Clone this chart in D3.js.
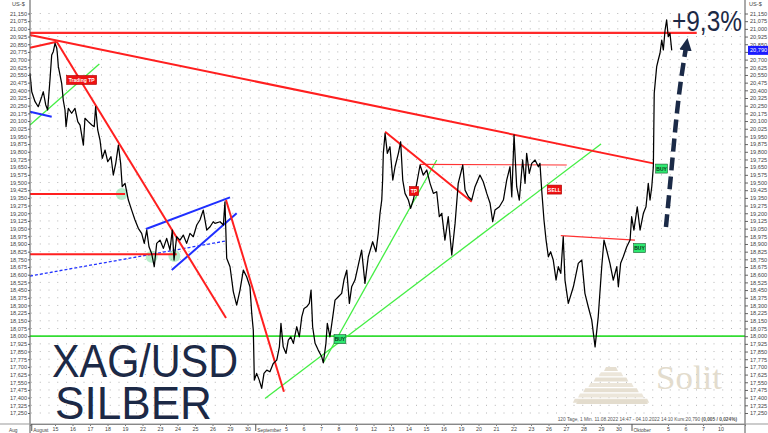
<!DOCTYPE html>
<html><head><meta charset="utf-8">
<script src="https://cdn.jsdelivr.net/npm/d3@7"></script>
<style>body{margin:0;background:#fff}svg{display:block;font-family:"Liberation Sans",Arial,sans-serif}</style>
</head><body><svg id="c" width="768" height="433"></svg>
<script>
// ---- DATA (time in trading days since start, price in US-$) ----
const timeDays = [0,0.10,0.29,0.47,0.67,0.76,0.90,1.01,1.14,1.24,1.33,1.43,1.53,1.56,1.62,1.81,1.90,2.00,2.06,2.19,2.38,2.57,2.73,2.86,3.05,3.14,3.33,3.53,3.67,3.75,3.87,4.00,4.13,4.29,4.44,4.63,4.76,4.90,5.05,5.18,5.27,5.43,5.62,5.81,6.00,6.19,6.38,6.53,6.67,6.80,6.95,7.10,7.24,7.43,7.62,7.81,8.00,8.13,8.23,8.38,8.57,8.76,8.95,9.14,9.33,9.53,9.71,9.90,10.10,10.29,10.47,10.57,10.86,11.05,11.14,11.24,11.43,11.62,11.81,12.00,12.19,12.38,12.57,12.67,12.76,12.82,12.95,13.10,13.24,13.37,13.53,13.71,13.90,14.10,14.25,14.34,14.47,14.63,14.76,14.90,15.05,15.24,15.39,15.53,15.66,15.81,15.96,16.06,16.15,16.29,16.47,16.67,16.76,16.91,16.99,17.14,17.30,17.43,17.62,17.81,17.94,18.10,18.25,18.38,18.57,18.76,18.95,19.14,19.33,19.58,19.77,19.90,20.00,20.10,20.15,20.19,20.29,20.42,20.57,20.73,20.86,21.05,21.18,21.30,21.43,21.62,21.75,21.90,22.10,22.29,22.47,22.67,22.86,23.05,23.24,23.39,23.53,23.71,23.90,24.10,24.29,24.47,24.73,24.86,25.05,25.24,25.43,25.71,25.90,26.10,26.29,26.44,26.57,26.82,27.05,27.24,27.43,27.53,27.66,27.81,27.96,28.15,28.29,28.38,28.53,28.67,28.86,29.05,29.14,29.24,29.37,29.49,29.62,29.75,29.90,30.06,30.19,30.33,30.47,30.57,30.76,31.05,31.33,31.53,31.71,31.90,32.10,32.29,32.47,32.67,32.80,32.95,33.14,33.33,33.53,33.62,33.75,33.90,34.10,34.29,34.38,34.51,34.70,34.86,35.05,35.20,35.33,35.43,35.53,35.62,35.67,35.81,35.90,36.00,36.10,36.19,36.29,36.38,36.47,36.57,36.67];
const priceUSD = [20.566,20.386,20.289,20.240,20.338,20.386,20.257,20.208,20.501,20.745,20.777,20.859,20.810,20.762,20.631,20.469,20.305,20.208,20.045,20.224,20.176,20.224,20.094,20.061,19.866,20.127,20.094,20.061,20.045,20.240,20.013,19.915,19.736,19.817,19.703,19.752,19.573,19.687,19.866,19.687,19.459,19.492,19.329,19.231,19.134,19.053,19.004,18.906,19.036,18.873,18.808,18.678,18.906,18.938,18.857,18.955,18.841,19.036,18.743,18.971,18.938,18.987,18.906,19.004,18.971,19.085,19.134,19.231,19.036,19.068,19.117,19.101,19.117,19.085,19.312,18.760,18.678,18.433,18.304,18.450,18.645,18.580,18.482,18.222,18.059,17.571,17.637,17.571,17.490,17.637,17.669,17.652,17.734,17.766,17.896,18.125,17.896,17.832,17.962,17.994,17.930,18.092,17.994,18.189,18.271,18.287,18.320,18.450,18.092,17.930,17.864,17.799,17.740,17.930,18.125,17.994,18.189,18.352,18.385,18.418,18.548,18.645,18.320,18.482,18.548,18.694,18.841,18.515,18.775,18.922,18.824,19.004,19.199,19.329,19.524,19.785,19.980,19.785,19.849,19.524,19.654,19.785,19.898,19.524,19.394,19.329,19.248,19.329,19.492,19.671,19.573,19.622,19.492,19.394,19.410,19.166,19.199,18.938,19.166,18.792,19.101,19.492,19.671,19.426,19.361,19.329,19.459,19.573,19.508,19.394,19.297,19.117,19.231,19.263,19.329,19.524,19.654,19.361,19.964,19.459,19.329,19.720,19.492,19.785,19.590,19.687,19.720,19.654,19.687,19.426,19.134,18.938,18.775,18.824,18.743,18.548,18.678,18.613,18.971,18.548,18.320,18.482,18.711,18.743,18.418,18.287,18.157,17.896,18.189,18.678,18.938,18.841,18.711,18.548,18.678,18.482,18.711,18.775,18.873,18.938,19.166,19.036,19.263,19.036,19.199,19.263,19.492,19.329,19.459,19.654,20.371,20.631,20.696,20.762,20.891,20.794,20.989,21.087,20.924,20.957,20.790];

const dayTickLabels = ["15","16","17","18","19","22","23","24","25","26","29","30","5","6","7","8","9","12","13","14","15","16","19","20","21","22","23","26","27","28","29","30","5","6","7","10"];
const dayTickPos = [1.43,2.43,3.43,4.43,5.43,6.43,7.43,8.43,9.43,10.43,11.43,12.43,14.63,15.63,16.63,17.63,18.63,19.63,20.63,21.63,22.63,23.63,24.63,25.63,26.63,27.63,28.63,29.63,30.63,31.63,32.63,33.63,36.46,37.46,38.46,39.46];
const monthLabels = ["August","September","Oktober"];
const monthPos = [0.1,12.9,34.4];
const yTicks = d3.range(0,53).map(i => +(17.25 + i*0.075).toFixed(3));
const lastPrice = 20.790;

// trendlines [t1,p1,t2,p2]
const redLines = [[0,20.940,35.62,19.687],[0,20.816,1.53,20.875],[1.53,20.875,11.2,18.177],[11.2,19.329,14.51,17.457],[20.29,19.996,25.24,19.312],[0,19.387,5.43,19.387],[0,18.799,8.38,18.799]];
const redThinLines = [[22.29,19.677,30.67,19.671],[30.33,18.982,34.57,18.938]];
const resistance = [0,20.960,38.1,20.960];
const greenLines = [[0,20.061,3.96,20.657],[13.43,17.392,32.63,19.876],[16.76,17.740,23.24,19.720]];
const support = [0,18.000,40.857,18.000];
const blueLines = [[0,20.191,1.24,20.142],[6.63,19.046,11.43,19.355],[8.10,18.645,11.81,19.199]];
const blueDashed = [[0,18.587,11.14,18.928]];
const touchPoints = [[5.24,19.387],[6.95,18.775],[8.25,18.782]];
const signalText = ["Trading TP","TP","SELL","BUY","BUY","BUY"];
const signalTime = [2.95,21.94,29.97,17.71,36.09,34.83];
const signalPrice = [20.501,19.417,19.431,17.971,19.636,18.860];
const signalType = ["sell","sell","sell","buy","buy","buy"];
const arrowTime = [36.34,36.67,37.05,37.49];
const arrowPrice = [19.065,19.654,20.305,20.826];

// ---- CHART ----
const svg = d3.select("#c");
const x = d3.scaleLinear().domain([0,40.857]).range([30,745]);
const y = d3.scaleLinear().domain([17.25,21.15]).range([413,13.5]);
const fmt = v => v.toFixed(3).replace(".", ",");

// dotted grid
svg.append("g").selectAll("line").data(yTicks).join("line")
  .attr("x1",31).attr("x2",745).attr("y1",d=>y(d)).attr("y2",d=>y(d))
  .attr("stroke","#b4b4b4").attr("stroke-width",1).attr("stroke-dasharray","1,7.75");

// logo (decoration)
const logo = svg.append("g");
for (let i=0;i<7;i++){
  const top = 367 + i*5.3, hw = 7 + i*5.2, cx = 611;
  logo.append("path").attr("d",`M${cx-hw},${top+4} L${cx-hw+2},${top} L${cx+hw-2},${top} L${cx+hw},${top+4} Z`)
    .attr("fill", i%2? "#ece6da":"#e6dfd1");
}
logo.append("path").attr("d","M576,404 L579,400 L645,400 L648,404 Z").attr("fill","#e3dccd");
logo.append("text").attr("x",656).attr("y",389).attr("font-family","'Liberation Serif','DejaVu Serif',serif")
  .attr("font-size",34).attr("fill","#e3dccd").attr("textLength",66).attr("lengthAdjust","spacingAndGlyphs").text("Solit");

// annotation lines
const seg = (g, data, color, w, dash) => g.selectAll(null).data(data).join("line")
  .attr("x1",d=>x(d[0])).attr("y1",d=>y(d[1])).attr("x2",d=>x(d[2])).attr("y2",d=>y(d[3]))
  .attr("stroke",color).attr("stroke-width",w).attr("stroke-dasharray",dash||null);
const ann = svg.append("g");
ann.selectAll("circle").data(touchPoints).join("circle")
  .attr("cx",d=>x(d[0])).attr("cy",d=>y(d[1])).attr("r",6).attr("fill","#7fe0a0").attr("opacity",0.55);
seg(ann,[support],"#33dd33",1.6);
seg(ann,greenLines,"#44ee44",1.3);
seg(ann,blueDashed,"#2233ff",1.3,"3,2");
seg(ann,blueLines,"#1f2fff",2);
seg(ann,redThinLines,"#ff3333",1.2);
seg(ann,redLines,"#ff1f1f",2);
seg(ann,[resistance],"#ff2a2a",2.2);

// price line
const pts = timeDays.map((t,i)=>[t,priceUSD[i]]);
svg.append("path").datum(pts)
  .attr("d", d3.line().x(d=>x(d[0])).y(d=>y(d[1])))
  .attr("fill","none").attr("stroke","#000").attr("stroke-width",1.25).attr("stroke-linejoin","round");

// signal labels
const sig = svg.append("g").selectAll("g").data(signalText.map((s,i)=>({s,t:signalTime[i],p:signalPrice[i],k:signalType[i]}))).join("g")
  .attr("transform",d=>`translate(${x(d.t)},${y(d.p)})`);
sig.append("rect").attr("x",d=>-(d.s.length*2.6+4)/2).attr("y",-4.5).attr("width",d=>d.s.length*2.6+4).attr("height",9)
  .attr("fill",d=>d.k==="buy"?"#2ee870":"#ee1111").attr("stroke",d=>d.k==="buy"?"#1a5a30":"#aa0000").attr("stroke-width",0.6);
sig.append("text").attr("text-anchor","middle").attr("y",2).attr("font-size",5).attr("font-weight","bold")
  .attr("fill",d=>d.k==="buy"?"#0a3015":"#fff").text(d=>d.s);

// arrow
const defs = svg.append("defs");
defs.append("marker").attr("id","ah").attr("viewBox","0 0 10 10").attr("refX",3).attr("refY",5)
  .attr("markerWidth",2.8).attr("markerHeight",2.8).attr("orient","auto").attr("markerUnits","strokeWidth")
  .append("path").attr("d","M0,0 L10,5 L0,10 Z").attr("fill","#1b2a47");
svg.append("path").datum(arrowTime.map((t,i)=>[t,arrowPrice[i]]))
  .attr("d", d3.line().x(d=>x(d[0])).y(d=>y(d[1])).curve(d3.curveNatural))
  .attr("fill","none").attr("stroke","#1b2a47").attr("stroke-width",4.5).attr("stroke-dasharray","13,6")
  .attr("marker-end","url(#ah)");

// axes
const right = svg.append("g").attr("transform","translate(745,0)")
  .call(d3.axisRight(y).tickValues(yTicks).tickFormat(fmt).tickSize(3).tickPadding(2));
const left = svg.append("g").attr("transform","translate(30,0)")
  .call(d3.axisLeft(y).tickValues(yTicks).tickFormat(fmt).tickSize(2).tickPadding(1));
[right,left].forEach(g=>{
  g.select(".domain").remove();
  g.selectAll("text").attr("font-size",5.6).attr("fill","#444").attr("font-family","'Liberation Sans',Arial,sans-serif");
  g.selectAll("line").attr("stroke","#666");
});
// the last-price box covers the right label beneath it
right.selectAll(".tick").filter(d=>Math.abs(y(d)-y(lastPrice))<6).select("text").remove();
svg.append("line").attr("x1",745).attr("x2",745).attr("y1",0).attr("y2",433).attr("stroke","#555");
svg.append("line").attr("x1",30).attr("x2",30).attr("y1",0).attr("y2",433).attr("stroke","#555");

const bottom = svg.append("g").attr("transform","translate(0,424)")
  .call(d3.axisBottom(x).tickValues(dayTickPos).tickFormat((d,i)=>dayTickLabels[i]).tickSize(2).tickPadding(1));
bottom.select(".domain").attr("stroke","#777");
bottom.selectAll("text").attr("font-size",5.3).attr("fill","#444").attr("font-family","'Liberation Sans',Arial,sans-serif");
bottom.selectAll("line").attr("stroke","#777");
svg.append("line").attr("x1",0).attr("x2",768).attr("y1",424).attr("y2",424).attr("stroke","#999");
const mg = svg.append("g").selectAll("g").data(monthLabels.map((m,i)=>({m,t:monthPos[i]}))).join("g")
  .attr("transform",d=>`translate(${x(d.t)},424)`);
mg.append("line").attr("y1",0).attr("y2",7).attr("stroke","#555");
mg.append("text").attr("x",1.5).attr("y",7.5).attr("font-size",4.9).attr("fill","#444").text(d=>d.m);
svg.append("text").attr("x",9).attr("y",431.5).attr("font-size",4.8).attr("fill","#444").text("Aug");

// axis titles
svg.append("text").attr("x",749).attr("y",6).attr("font-size",5.6).attr("fill","#444").text("US-$");
svg.append("text").attr("x",12).attr("y",5.5).attr("font-size",5.6).attr("fill","#444").text("US-$");

// last price box
const lp = svg.append("g").attr("transform",`translate(748,${y(lastPrice)})`);
lp.append("rect").attr("x",0).attr("y",-4.5).attr("width",20).attr("height",9).attr("fill","#1b1bff");
lp.append("text").attr("x",2).attr("y",2).attr("font-size",5.6).attr("fill","#fff").text(fmt(lastPrice));

// big texts
svg.append("text").attr("x",52).attr("y",377).attr("font-size",46).attr("fill","#1c2946")
  .attr("textLength",186).attr("lengthAdjust","spacingAndGlyphs").text("XAG/USD");
svg.append("text").attr("x",55).attr("y",419).attr("font-size",46).attr("fill","#1c2946")
  .attr("textLength",157).attr("lengthAdjust","spacingAndGlyphs").text("SILBER");
svg.append("text").attr("x",672).attr("y",31).attr("font-size",29).attr("fill","#1c2946")
  .attr("textLength",70).attr("lengthAdjust","spacingAndGlyphs").text("+9,3%");

// info line
const info = svg.append("text").attr("x",737).attr("y",420.5).attr("text-anchor","end").attr("font-size",4.8).attr("fill","#555");
info.append("tspan").text("120 Tage, 1 Min. 11.08.2022 14:47 - 04.10.2022 14:10 Kurs:20,790 ");
info.append("tspan").attr("font-weight","bold").text("(0,005 / 0,024%)");
</script></body></html>
